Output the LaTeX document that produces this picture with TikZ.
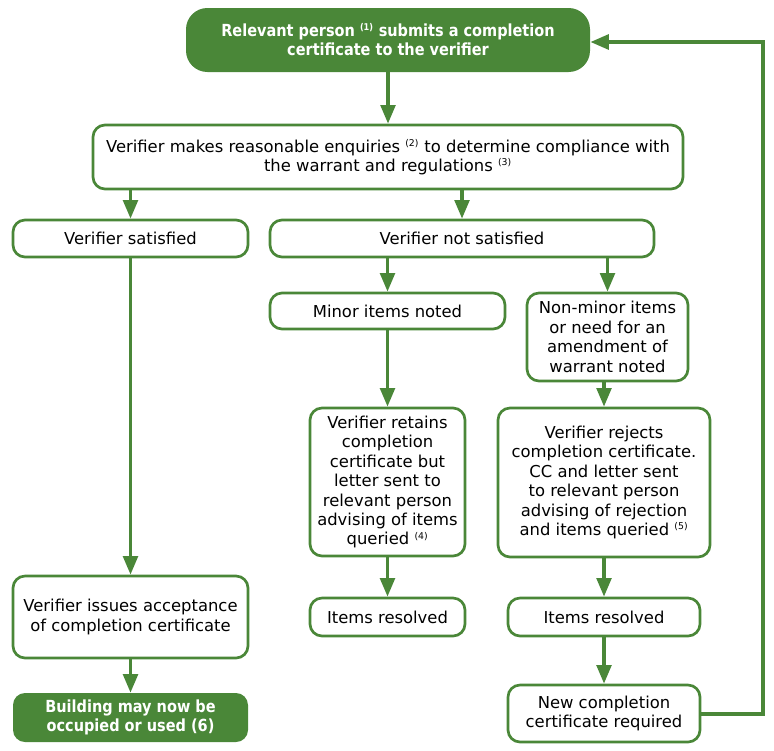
\documentclass[tikz,border=0pt]{standalone}
\usepackage{fontspec}
\setmainfont{DejaVu Sans}
\newfontfamily\boldcond[FakeStretch=0.87]{DejaVu Sans}
\usetikzlibrary{arrows.meta}
\definecolor{grn}{RGB}{74,135,56}
\newcommand{\sps}[1]{\textsuperscript{\fontsize{7}{7}\selectfont(#1)}}
\tikzset{
  bx/.style 2 args={draw=grn, line width=2pt, rounded corners=9pt, fill=white,
    minimum width=#1*0.75pt, minimum height=#2*0.75pt, inner sep=1pt,
    align=center, text=black, font=\fontsize{12.3}{14.6}\selectfont},
  gbx/.style 2 args={fill=grn, draw=none, rounded corners=#2,
    minimum width=#1*0.75pt, inner sep=1pt, align=center, text=white,
    font=\boldcond\fontsize{12.5}{14.3}\selectfont\bfseries},
  arr/.style={draw=grn, line width=2.6pt, -{Triangle[length=14pt,width=11pt]}},
  fb/.style={draw=grn, line width=3pt, -{Triangle[length=14pt,width=11pt]}}
}
\begin{document}
\begin{tikzpicture}[x=0.75pt,y=-0.75pt]
\useasboundingbox (0,0) rectangle (774,750);
\node[gbx={404}{16pt}, minimum height=64*0.75pt] (top) at (388,40)
  {Relevant person \sps{1} submits a completion\\certificate to the verifier};
\node[bx={590}{64}] (enq) at (388,157)
  {Verifier makes reasonable enquiries \sps{2} to determine compliance with\\the warrant and regulations \sps{3}};
\node[bx={235}{37}] (sat) at (130.5,238.5) {Verifier satisfied};
\node[bx={384}{37}] (nsat) at (462,238.5) {Verifier not satisfied};
\node[bx={235}{36}] (minor) at (387.5,311) {Minor items noted};
\node[bx={161}{88}] (nonminor) at (607.5,337)
  {Non-minor items\\or need for an\\amendment of\\warrant noted};
\node[bx={155}{148}] (ret) at (387.5,482)
  {Verifier retains\\completion\\certificate but\\letter sent to\\relevant person\\advising of items\\queried \sps{4}};
\node[bx={212}{149}] (rej) at (604,482.5)
  {Verifier rejects\\completion certificate.\\CC and letter sent\\to relevant person\\advising of rejection\\and items queried \sps{5}};
\node[bx={155}{38}] (resA) at (387.5,617) {Items resolved};
\node[bx={192}{38}] (resB) at (604,617) {Items resolved};
\node[bx={235}{82}] (iss) at (130.5,617)
  {Verifier issues acceptance\\of completion certificate};
\node[gbx={235}{9pt}, minimum height=49*0.75pt] (bld) at (130.5,717.5)
  {Building may now be\\occupied or used (6)};
\node[bx={192}{57}] (new) at (604,713.5)
  {New completion\\certificate required};
\coordinate (c1) at (763,713.5);
\coordinate (c2) at (763,42);
\draw[arr] (top.south -| enq.north) -- (enq.north);
\draw[arr] (enq.south -| sat.north) -- (sat.north);
\draw[arr] (enq.south -| nsat.north) -- (nsat.north);
\draw[arr] (nsat.south -| minor.north) -- (minor.north);
\draw[arr] (nsat.south -| nonminor.north) -- (nonminor.north);
\draw[arr] (minor.south -| ret.north) -- (ret.north);
\draw[arr] (nonminor.south -| rej.north) -- (rej.north);
\draw[arr] (sat.south) -- (iss.north);
\draw[arr] (iss.south) -- (bld.north);
\draw[arr] (ret.south) -- (resA.north);
\draw[arr] (rej.south) -- (resB.north);
\draw[arr] (resB.south) -- (new.north);
\draw[fb] (new.east) -- (c1) -- (c2) -- (c2 -| top.east);
\end{tikzpicture}
\end{document}
